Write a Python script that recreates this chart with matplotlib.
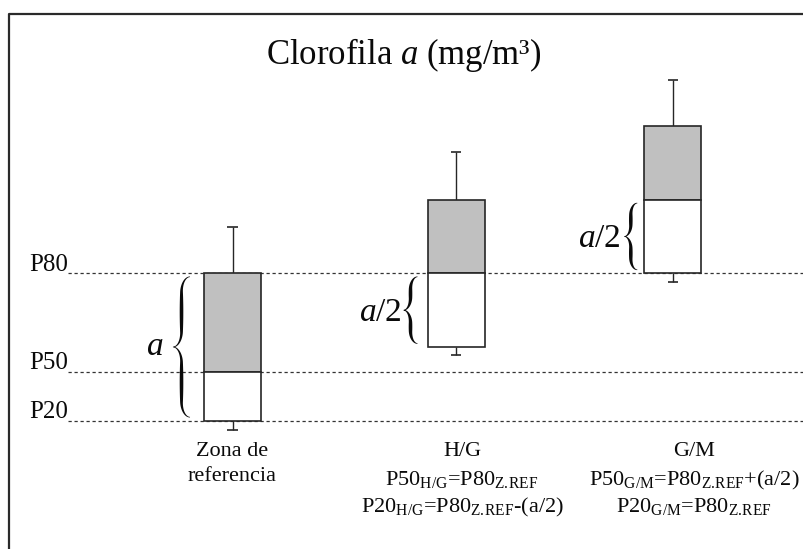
import numpy as np
import matplotlib
matplotlib.use("Agg")
import matplotlib.pyplot as plt
import matplotlib.transforms as mtransforms
from matplotlib.lines import Line2D

plt.rcParams['font.family'] = ['Liberation Serif', 'DejaVu Serif']
plt.rcParams['mathtext.fontset'] = 'custom'
plt.rcParams['mathtext.rm'] = 'Liberation Serif'
plt.rcParams['mathtext.it'] = 'Liberation Serif:italic'
plt.rcParams['mathtext.bf'] = 'Liberation Serif:bold'

# box positions and percentiles (P20 = 1, P80 = 4 in the reference zone)
positions = [1.0, 2.0, 2.97]
p20 = [1.0, 2.5, 4.0]
p50 = [2.0, 4.0, 5.5]
p80 = [4.0, 5.5, 7.0]
whisk_low = [0.81, 2.34, 3.82]
whisk_high = [4.95, 6.47, 7.93]

ref_levels = [4.0, 2.0, 1.0]
ref_labels = ['P80', 'P50', 'P20']

cat_names = ['Zona de', 'H/G', 'G/M']
cat_names2 = ['referencia', '', '']
zref = r'\mathrm{Z.\!REF}'
rule1 = ['', r'P50$_{\mathrm{H/G}}$=P80$_{%s}$' % zref,
         r'P50$_{\mathrm{G/M}}$=P80$_{%s}$+(a/2)' % zref]
rule2 = ['', r'P20$_{\mathrm{H/G}}$=P80$_{%s}$-(a/2)' % zref,
         r'P20$_{\mathrm{G/M}}$=P80$_{%s}$' % zref]
label_x = [0.289, 0.5746, 0.863]

# braces: (bottom, top, label)
brace_spans = [(p20[0], p80[0], '$a$'), (p20[1], p50[1], '$a/2$'), (p20[2], p50[2], '$a/2$')]

box_w = 0.255
cap_w = 0.045
edge = '#262626'
ink = '#0a0a0a'

fig = plt.figure(figsize=(8.04, 5.49), dpi=100)
ax = fig.add_axes([0, 0, 1, 1])
ax.set_xlim(-0.0403, 3.557)
ax.set_ylim(-1.612, 9.563)
ax.axis('off')

W, H = fig.get_size_inches() * fig.dpi
sx = (3.557 + 0.0403) / W   # data per pixel, x
sy = (9.563 + 1.612) / H    # data per pixel, y


def draw_brace(ax, x_right, y_lo, y_hi, w, thick=3.6):
    """left-pointing curly brace as a filled shape, w in pixels"""
    h = (y_hi - y_lo) / sy
    k = min(0.9 * w, h / 4)
    v = np.linspace(0, h / 2, 1500)
    xs = np.zeros_like(v)
    end = v < k
    xs[end] = (w / 2) * (1 - np.sqrt(np.clip(1 - (1 - v[end] / k) ** 2, 0, 1)))
    mid = v > h / 2 - k
    vm = h / 2 - v[mid]
    xs[mid] = -(w / 2) * (1 - np.sqrt(np.clip(1 - (1 - vm / k) ** 2, 0, 1)))
    t = 0.3 + (thick / 2 - 0.3) * np.sin(np.pi * v / (h / 2)) ** 0.7
    X = np.concatenate([xs, xs[::-1][1:]])
    Y = np.concatenate([-v, -h + v[::-1][1:]])
    T = np.concatenate([t, t[::-1][1:]])
    dX, dY = np.gradient(X), np.gradient(Y)
    L = np.hypot(dX, dY)
    L[L == 0] = 1
    nx, ny = -dY / L, dX / L
    px = np.concatenate([X + nx * T, (X - nx * T)[::-1]])
    py = np.concatenate([Y + ny * T, (Y - ny * T)[::-1]])
    x_spine = x_right - (w / 2) * sx
    ax.fill(x_spine + px * sx, y_hi + py * sy, color=ink, lw=0, zorder=4)
    return x_right - w * sx


# reference percentile lines
blend = mtransforms.blended_transform_factory(ax.transAxes, ax.transData)
for lvl, lab in zip(ref_levels, ref_labels):
    ax.axhline(lvl, xmin=68 / 804, xmax=1, color='#333333', lw=0.9,
               ls=(0, (2.6, 2.2)), zorder=1)
    ax.text(68 / 804, lvl + 0.05, lab, transform=blend, ha='right',
            va='baseline', fontsize=18, color=ink)

# whiskers
ax.vlines(positions, p80, whisk_high, color=edge, lw=1.0, zorder=2)
ax.vlines(positions, whisk_low, p20, color=edge, lw=1.0, zorder=2)
pos = np.array(positions)
ax.hlines(whisk_high, pos - cap_w / 2, pos + cap_w / 2, color=edge, lw=1.2, zorder=2)
ax.hlines(whisk_low, pos - cap_w / 2, pos + cap_w / 2, color=edge, lw=1.2, zorder=2)

# boxes: gray upper half, white lower half
ax.bar(positions, np.subtract(p80, p50), bottom=p50, width=box_w,
       color='#c0c0c0', edgecolor=edge, lw=1.2, zorder=3)
ax.bar(positions, np.subtract(p50, p20), bottom=p20, width=box_w,
       color='white', edgecolor=edge, lw=1.2, zorder=3)

# braces and their labels
brace_gap = [14, 10, 7]
brace_wid = [17, 14, 13]
label_gap = [10, 2, 3]
for i, (lo, hi, lab) in enumerate(brace_spans):
    xr = positions[i] - box_w / 2 - brace_gap[i] * sx
    tip = draw_brace(ax, xr, lo + 3.5 * sy, hi - 3.5 * sy, brace_wid[i])
    ymid = (lo + hi) / 2
    ax.text(tip - label_gap[i] * sx, ymid - 8 * sy if i == 0 else ymid - 11 * sy,
            lab, ha='right', va='baseline', fontsize=24, color=ink)

# title
ax.text(0.5025, 1 - 64 / 549, 'Clorofila $a$ (mg/m³)', transform=ax.transAxes,
        ha='center', va='baseline', fontsize=25, color=ink)

# category labels and rules
for i in range(3):
    ax.text(label_x[i], 1 - 456 / 549, cat_names[i], transform=ax.transAxes,
            ha='center', va='baseline', fontsize=16, color=ink)
    if cat_names2[i]:
        ax.text(label_x[i], 1 - 481 / 549, cat_names2[i], transform=ax.transAxes,
                ha='center', va='baseline', fontsize=16, color=ink)
    if rule1[i]:
        ax.text(label_x[i], 1 - 485 / 549, rule1[i], transform=ax.transAxes,
                ha='center', va='baseline', fontsize=16, color=ink)
        ax.text(label_x[i], 1 - 512 / 549, rule2[i], transform=ax.transAxes,
                ha='center', va='baseline', fontsize=16, color=ink)

# frame (top and left edges)
fx = 8.5 / W
fy = 1 - 13.5 / H
fig.add_artist(Line2D([fx, fx, 1.0], [0.0, fy, fy], transform=fig.transFigure,
                      color='#2a2a2a', lw=1.6))

fig.savefig('out.png', dpi=100)
